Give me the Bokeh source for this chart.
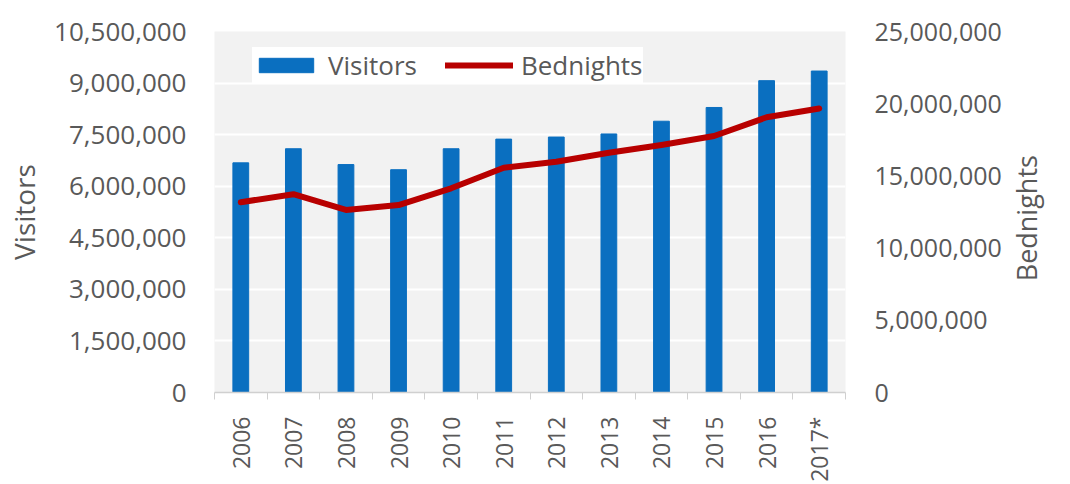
import math
from bokeh.plotting import figure
from bokeh.models import (Range1d, LinearAxis, FixedTicker, NumeralTickFormatter,
                          ColumnDataSource, Legend, LegendItem)
from bokeh.embed import file_html
from bokeh.resources import INLINE

years = ["2006", "2007", "2008", "2009", "2010", "2011", "2012", "2013",
         "2014", "2015", "2016", "2017*"]
visitors = [6680000, 7090000, 6630000, 6480000, 7090000, 7370000, 7430000,
            7520000, 7890000, 8290000, 9070000, 9350000]
bednights = [13180000, 13730000, 12640000, 12980000, 14140000, 15570000,
             15980000, 16600000, 17140000, 17760000, 19060000, 19670000]
left_ticks = [0, 1500000, 3000000, 4500000, 6000000, 7500000, 9000000, 10500000]
right_ticks = [0, 5000000, 10000000, 15000000, 20000000, 25000000]

FONT = "Open Sans"
TXT = "#595959"
BLUE = "#0a6fc0"
RED = "#b80000"

xpos = [i + 0.5 for i in range(len(years))]
src = ColumnDataSource(dict(x=xpos, v=visitors, b=bednights, year=years))

p = figure(width=1070, height=484, output_backend="svg", toolbar_location=None,
           x_range=Range1d(0, len(years)), y_range=Range1d(0, 10500000),
           min_border_left=214, min_border_right=225, min_border_top=31,
           min_border_bottom=91)
p.extra_y_ranges = {"bed": Range1d(0, 25000000)}

p.background_fill_color = "#f2f2f2"
p.border_fill_color = "white"
p.outline_line_color = None

p.xgrid.grid_line_color = None
p.ygrid.ticker = FixedTicker(ticks=left_ticks)
p.ygrid.grid_line_color = "white"
p.ygrid.grid_line_width = 2

bars = p.vbar(x="x", top="v", width=0.3, source=src, color=BLUE)
line = p.line(x="x", y="b", source=src, y_range_name="bed", line_color=RED,
              line_width=6, line_join="round", line_cap="round")

# x axis
xa = p.xaxis[0]
xa.ticker = FixedTicker(ticks=xpos, minor_ticks=list(range(len(years) + 1)))
xa.major_label_overrides = {x: y for x, y in zip(xpos, years)}
xa.major_label_orientation = math.pi / 2
xa.major_tick_line_color = None
xa.major_tick_out = 0
xa.minor_tick_line_color = "#d0d0d0"
xa.minor_tick_out = 7
xa.minor_tick_in = 0
xa.axis_line_color = "#d0d0d0"
xa.axis_line_width = 1.5
xa.major_label_text_font = FONT
xa.major_label_text_font_size = "23px"
xa.major_label_text_color = TXT
xa.major_label_standoff = 17

# left axis
ya = p.yaxis[0]
ya.ticker = FixedTicker(ticks=left_ticks)
ya.formatter = NumeralTickFormatter(format="0,0")
ya.axis_line_color = None
ya.major_tick_line_color = None
ya.major_tick_out = 0
ya.minor_tick_line_color = None
ya.major_label_text_font = FONT
ya.major_label_text_font_size = "26px"
ya.major_label_text_color = TXT
ya.major_label_standoff = 28
ya.axis_label = "Visitors"
ya.axis_label_text_font = FONT
ya.axis_label_text_font_size = "28px"
ya.axis_label_text_font_style = "normal"
ya.axis_label_text_color = TXT
ya.axis_label_standoff = 8

# right axis
ra = LinearAxis(y_range_name="bed", ticker=FixedTicker(ticks=right_ticks),
                formatter=NumeralTickFormatter(format="0,0"))
ra.axis_line_color = None
ra.major_tick_line_color = None
ra.major_tick_out = 0
ra.minor_tick_line_color = None
ra.major_label_text_font = FONT
ra.major_label_text_font_size = "25px"
ra.major_label_text_color = TXT
ra.major_label_standoff = 29
p.add_layout(ra, "right")

# right axis title, reading bottom-to-top (label starts at TITLE_AT)
TITLE_AT = 7700000
ta = LinearAxis(y_range_name="bed", ticker=FixedTicker(ticks=[TITLE_AT]),
                major_label_overrides={TITLE_AT: "Bednights"})
ta.major_label_orientation = math.pi / 2
ta.axis_line_color = None
ta.major_tick_line_color = None
ta.major_tick_out = 0
ta.minor_tick_line_color = None
ta.major_label_text_font = FONT
ta.major_label_text_font_size = "27px"
ta.major_label_text_color = TXT
ta.major_label_standoff = 22
p.add_layout(ta, "right")

legend = Legend(items=[LegendItem(label="Visitors", renderers=[bars]),
                       LegendItem(label="Bednights", renderers=[line])],
                orientation="horizontal", location=(38, 309),
                glyph_width=68, glyph_height=18,
                label_text_font=FONT, label_text_font_size="26px",
                label_text_color=TXT, background_fill_color="white",
                background_fill_alpha=1, border_line_color=None,
                padding=6, spacing=28, label_standoff=8, margin=0)
p.add_layout(legend, "center")

open("out.html", "w").write(file_html(p, INLINE))
